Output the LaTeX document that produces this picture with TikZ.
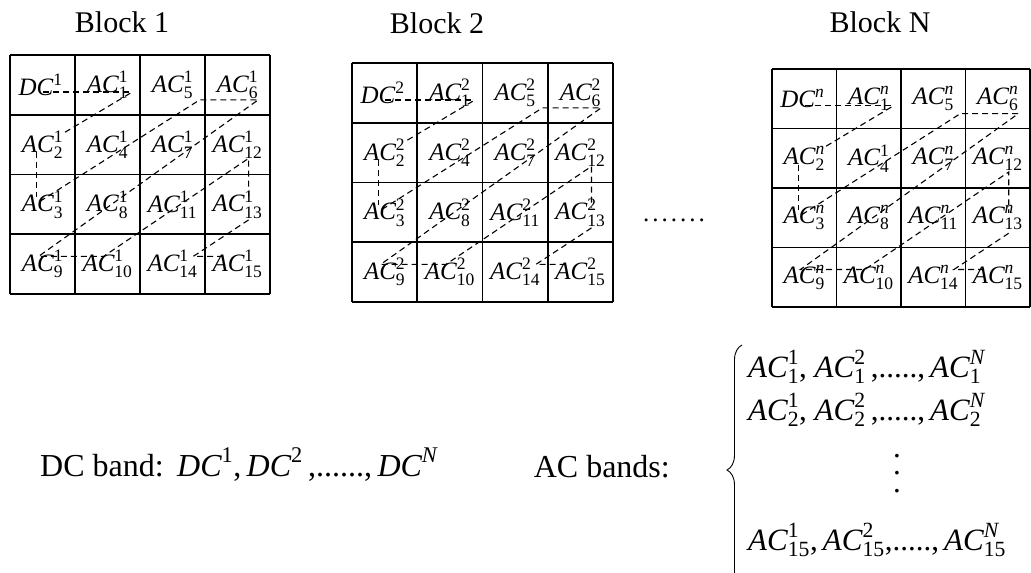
\documentclass[tikz,border=0pt]{standalone}
\usepackage{amsmath}
\usepackage{fontspec}
\setmainfont{Liberation Serif}
\usetikzlibrary{decorations.pathreplacing}
\newcommand\lbl[3]{$\textit{#1}^{\text{#2}}_{\text{#3}}$}
\newcommand\lbd[2]{$\textit{#1}^{\text{#2}}$}
\tikzset{
  gridline/.style={line width=1.7pt},
  zz/.style={line width=1.1pt,dash pattern=on 6pt off 4pt},
  cell/.style={inner sep=0pt,font=\fontsize{25}{28}\selectfont},
  title/.style={inner sep=0pt,font=\fontsize{30}{34}\selectfont},
  big/.style={inner sep=0pt,font=\fontsize{32}{36}\selectfont},
  rows/.style={inner sep=0pt,font=\fontsize{31}{35}\selectfont},
  vdot/.style={inner sep=0pt,font=\fontsize{31}{35}\selectfont,text height=4pt,text depth=0pt,anchor=base},
  bracestyle/.style={decorate,decoration={brace,amplitude=15pt},line width=0.9pt}
}
% #1 prefix, #2 x0, #3 y0, #4 cell w, #5 cell h, #6 superscript, #7 superscript of AC4
\newcommand\myblock[7]{%
\begin{scope}[shift={(#2,#3)},x=#4pt,y=-#5pt]
  \foreach \i in {0,...,4}{\draw[gridline] (\i,0)--(\i,4); \draw[gridline] (0,\i)--(4,\i);}
  \node[cell] (#1-11) at (0.47,0.5) {\lbd{DC}{#6}};
  \node[cell] (#1-12) at (1.5,0.5) {\lbl{AC}{#6}{1}};
  \node[cell] (#1-13) at (2.5,0.5) {\lbl{AC}{#6}{5}};
  \node[cell] (#1-14) at (3.5,0.5) {\lbl{AC}{#6}{6}};
  \node[cell] (#1-21) at (0.5,1.5) {\lbl{AC}{#6}{2}};
  \node[cell] (#1-22) at (1.5,1.5) {\lbl{AC}{#7}{4}};
  \node[cell] (#1-23) at (2.5,1.5) {\lbl{AC}{#6}{7}};
  \node[cell] (#1-24) at (3.5,1.5) {\lbl{AC}{#6}{12}};
  \node[cell] (#1-31) at (0.5,2.5) {\lbl{AC}{#6}{3}};
  \node[cell] (#1-32) at (1.5,2.5) {\lbl{AC}{#6}{8}};
  \node[cell] (#1-33) at (2.5,2.5) {\lbl{AC}{#6}{11}};
  \node[cell] (#1-34) at (3.5,2.5) {\lbl{AC}{#6}{13}};
  \node[cell] (#1-41) at (0.5,3.5) {\lbl{AC}{#6}{9}};
  \node[cell] (#1-42) at (1.5,3.5) {\lbl{AC}{#6}{10}};
  \node[cell] (#1-43) at (2.5,3.5) {\lbl{AC}{#6}{14}};
  \node[cell] (#1-44) at (3.5,3.5) {\lbl{AC}{#6}{15}};
  \coordinate (#1-a) at (0.51,0.62);
  \coordinate (#1-b) at (1.85,0.62);
  \coordinate (#1-b2) at (1.85,0.64);
  \coordinate (#1-c) at (0.82,1.31);
  \coordinate (#1-d) at (0.41,1.62);
  \coordinate (#1-e) at (0.41,2.37);
  \coordinate (#1-f) at (0.46,2.45);
  \coordinate (#1-g) at (2.92,0.75);
  \coordinate (#1-h) at (3.82,0.75);
  \coordinate (#1-i) at (0.44,3.37);
  \coordinate (#1-j) at (1.44,3.37);
  \coordinate (#1-k) at (3.67,1.73);
  \coordinate (#1-l) at (3.67,2.42);
  \coordinate (#1-m) at (3.67,2.76);
  \coordinate (#1-n) at (2.82,3.37);
  \coordinate (#1-o) at (3.33,3.37);
  \draw[zz] (#1-a) -- (#1-b);
  \draw[zz] (#1-b2) -- (#1-c);
  \draw[zz] (#1-d) -- (#1-e);
  \draw[zz] (#1-f) -- (#1-g) -- (#1-h) -- (#1-i) -- (#1-j) -- (#1-k) -- (#1-l);
  \draw[zz] (#1-m) -- (#1-n) -- (#1-o);
\end{scope}}
\begin{document}
\begin{tikzpicture}[x=1pt,y=-1pt]
\useasboundingbox (0,0) rectangle (1031,573);
% titles
\node[title,anchor=base] (t1) at (122,32) {Block 1};
\node[title,anchor=base] (t2) at (437,33) {Block 2};
\node[title,anchor=base] (tn) at (880,32) {Block N};
% blocks
\myblock{A}{10}{55}{65}{59.75}{1}{1}
\myblock{B}{352}{63}{65.25}{59.75}{2}{2}
\myblock{Z}{772}{69}{64.5}{59.5}{\textit{n}}{1}
% ellipsis between blocks
\node[cell,anchor=base] (ell) at (674,221) {.\kern3pt.\kern3pt.\kern3pt.\kern3pt.\kern3pt.\kern3pt.};
% DC band
\node[big,anchor=base west] (dcl) at (40,476) {DC band:};
\node[big,anchor=base west] (dcs) at (177,476) {$\textit{DC}^{\text{1}}\text{,\,}\textit{DC}^{\text{2}}\text{\,,......,\,}\textit{DC}^{\textit{N}}$};
% AC bands
\node[big,anchor=base east] (acl) at (670,477) {AC bands:};
\coordinate (brb) at (742,595);
\coordinate (brt) at (742,345);
\draw[bracestyle] (brb) -- (brt);
\node[rows,anchor=base west] (r1) at (748,377) {$\textit{AC}^{\text{1}}_{\text{1}}\text{, }\textit{AC}^{\text{2}}_{\text{1}}\text{\,,.....,\,}\textit{AC}^{\textit{N}}_{\text{1}}$};
\node[rows,anchor=base west] (r2) at (748,420) {$\textit{AC}^{\text{1}}_{\text{2}}\text{, }\textit{AC}^{\text{2}}_{\text{2}}\text{\,,.....,\,}\textit{AC}^{\textit{N}}_{\text{2}}$};
\node[rows,anchor=base west] (r3) at (748,550) {$\textit{AC}^{\text{1}}_{\text{15}}\text{,\,}\textit{AC}^{\text{2}}_{\text{15}}\text{,.....,\,}\textit{AC}^{\textit{N}}_{\text{15}}$};
\node[vdot] (v1) at (897,457) {.};
\node[vdot] (v2) at (897,474) {.};
\node[vdot] (v3) at (897,492) {.};
\end{tikzpicture}
\end{document}
